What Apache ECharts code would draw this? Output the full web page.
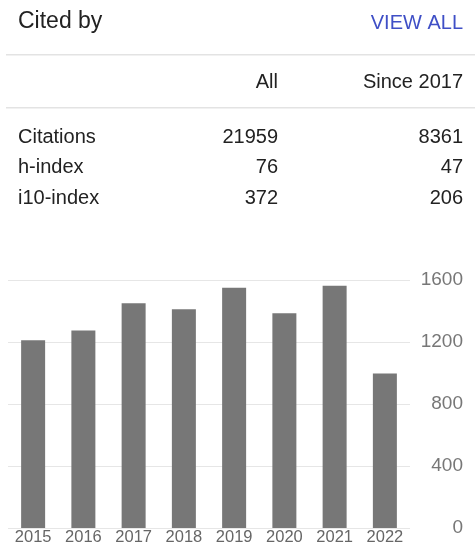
<!DOCTYPE html>
<html>
<head>
<meta charset="utf-8">
<script src="https://cdn.jsdelivr.net/npm/echarts@6/dist/echarts.min.js"></script>
<style>
    html, body { margin: 0; padding: 0; background: #fff; }
    #cited-by-chart { width: 475px; height: 548px; }
</style>
</head>
<body>
<div id="cited-by-chart"></div>
<script>
// cited-by data
const years = ['2015', '2016', '2017', '2018', '2019', '2020', '2021', '2022'];
const citations = [1212, 1274, 1450, 1411, 1550, 1385, 1563, 996];
const yTicks = [0, 400, 800, 1200, 1600];

const columnHeads = ['All', 'Since 2017'];
const rowNames = ['Citations', 'h-index', 'i10-index'];
const allValues = ['21959', '76', '372'];
const sinceValues = ['8361', '47', '206'];

const font = "'Liberation Sans', Arial, sans-serif";
const rowY = [137, 167, 198];

const textEl = (txt, x, y, align, size, color) => ({
    type: 'text',
    x: x,
    y: y,
    style: {
        text: txt,
        fill: color || '#222',
        font: (size || 20) + 'px ' + font,
        textAlign: align,
        textVerticalAlign: 'middle',
    },
});

let graphics = [
    textEl('Cited by', 18, 22, 'left', 23, '#222'),
    textEl('VIEW ALL', 463, 23, 'right', 20, '#3f4fc6'),
    {type: 'rect', shape: {x: 6, y: 54, width: 469, height: 1.5}, style: {fill: '#e3e3e3'}},
    textEl(columnHeads[0], 278, 82, 'right'),
    textEl(columnHeads[1], 463, 82, 'right'),
    {type: 'rect', shape: {x: 6, y: 107, width: 469, height: 1.5}, style: {fill: '#e3e3e3'}},
];
rowNames.forEach((name, i) => {
    graphics.push(textEl(name, 18, rowY[i], 'left'));
    graphics.push(textEl(allValues[i], 278, rowY[i], 'right'));
    graphics.push(textEl(sinceValues[i], 463, rowY[i], 'right'));
});

let options = {
    animation: false,
    graphic: graphics,
    grid: {
        left: 8,
        right: 65,
        top: 280,
        bottom: 20,
    },
    xAxis: {
        type: 'category',
        data: years,
        axisLine: {show: false},
        axisTick: {show: false},
        axisLabel: {
            color: '#666',
            fontSize: 16.5,
            fontFamily: font,
            margin: 1,
        },
    },
    yAxis: {
        type: 'value',
        position: 'right',
        min: yTicks[0],
        max: yTicks[yTicks.length - 1],
        interval: yTicks[1] - yTicks[0],
        axisLine: {show: false},
        axisTick: {show: false},
        axisLabel: {
            color: '#777',
            fontSize: 19,
            fontFamily: font,
            align: 'right',
            margin: 53,
            formatter: (v) => String(v),
        },
        splitLine: {
            lineStyle: {color: '#e6e6e6', width: 1},
        },
    },
    series: [{
        type: 'bar',
        data: citations,
        barWidth: 24,
        itemStyle: {
            color: '#777777',
        },
    }],
};

const box = document.getElementById('cited-by-chart');
let chart = echarts.getInstanceByDom(box);
if (!chart) {
    chart = echarts.init(box);
}
chart.setOption(options);
</script>
</body>
</html>
